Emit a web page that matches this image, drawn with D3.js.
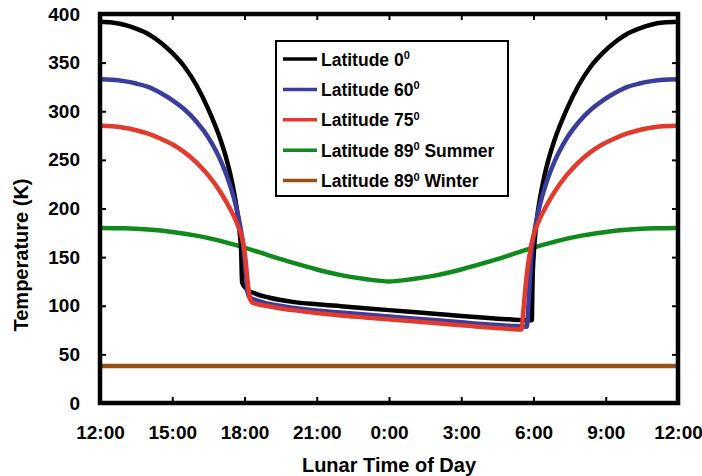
<!DOCTYPE html>
<html>
<head>
<meta charset="utf-8">
<script src="https://cdn.jsdelivr.net/npm/d3@7"></script>
<style>
  html, body { margin: 0; padding: 0; background: #fff; }
  svg { display: block; font-family: "Liberation Sans", Arial, sans-serif; }
</style>
</head>
<body>
<svg id="chart" width="702" height="476"></svg>
<script>
// Hours are counted from local noon (0 = 12:00, 12 = 0:00, 24 = next 12:00)
const hourTicks = [0, 3, 6, 9, 12, 15, 18, 21, 24];
const hourTickLabels = ["12:00", "15:00", "18:00", "21:00", "0:00", "3:00", "6:00", "9:00", "12:00"];
const tempTicks = [0, 50, 100, 150, 200, 250, 300, 350, 400];

// [hour, temperature K]
const lat0 = [[0,392],[0.5,391.2],[1,389],[1.5,385],[2,379.5],[2.5,371],[3,360],[3.5,346],[4,327],[4.5,302],[5,271],[5.25,251],[5.45,231],[5.6,212],[5.72,193],[5.8,175],[5.86,157],[5.9,124],[6.1,117],[6.5,112],[7,108.5],[8,104],[9,101.5],[10,99.5],[11,97.5],[12,95.5],[13,93.5],[14,91.5],[15,89.5],[16,87.7],[17,86],[17.93,85],[17.96,125],[18.02,157],[18.08,175],[18.16,193],[18.28,212],[18.43,231],[18.63,251],[18.88,271],[19.38,302],[19.88,327],[20.38,346],[20.88,360],[21.38,371],[21.88,379.5],[22.38,385],[22.88,389],[23.38,391.2],[24,392]];
const lat60 = [[0,333],[0.5,332.5],[1,331],[1.5,328.5],[2,325],[2.5,319],[3,311.5],[3.5,302],[4,289.5],[4.5,273],[4.84,258],[5.05,247],[5.26,234],[5.45,220],[5.6,207],[5.75,191],[5.85,178],[5.92,167],[5.97,157],[6.05,135],[6.12,115],[6.2,109],[6.5,105.5],[7,102],[8,98],[9,95],[10,93],[11,91],[12,89],[13,87],[14,85],[15,83],[16,81],[17,79.5],[17.72,78.5],[17.8,105],[17.87,135],[17.93,157],[17.98,167],[18.05,178],[18.15,191],[18.3,207],[18.45,220],[18.64,234],[18.85,247],[19.06,258],[19.4,273],[19.9,289.5],[20.4,302],[20.9,311.5],[21.4,319],[21.9,325],[22.4,328.5],[22.9,331],[23.4,332.5],[24,333]];
const lat75 = [[0,285],[0.5,284.5],[1,283],[1.5,280.5],[2,277],[2.5,272],[3,266],[3.5,258],[4,247.5],[4.5,234],[5,217],[5.25,206.5],[5.5,195],[5.7,184],[5.85,174],[5.95,164],[6.03,150],[6.13,125],[6.22,108],[6.32,103.5],[7,99.5],[8,95.5],[9,92.5],[10,90],[11,88],[12,86],[13,84],[14,82],[15,80],[16,77.8],[17,76.2],[17.5,75.5],[17.58,95],[17.67,120],[17.76,140],[17.84,153],[17.92,164],[18.02,174],[18.17,184],[18.37,195],[18.62,206.5],[18.87,217],[19.37,234],[19.87,247.5],[20.37,258],[20.87,266],[21.37,272],[21.87,277],[22.37,280.5],[22.87,283],[23.37,284.5],[24,285]];
const lat89Summer = [[0,180],[1,179.6],[2,178.3],[3,175.9],[4,172.1],[5,166.7],[6,159.7],[7,151.9],[8,144.3],[9,137.3],[10,131.5],[11,127.5],[12,125],[13,127.5],[14,131.5],[15,137.3],[16,144.3],[17,151.9],[18,159.7],[19,166.7],[20,172.1],[21,175.9],[22,178.3],[23,179.6],[24,180]];
const lat89Winter = [[0,38],[3,38],[6,38],[9,38],[12,38],[15,38],[18,38],[21,38],[24,38]];

const seriesNames = ["Latitude 0", "Latitude 60", "Latitude 75", "Latitude 89", "Latitude 89"];
const seriesSuffix = ["", "", "", " Summer", " Winter"];
const seriesColors = ["#000000", "#3a3d9e", "#e23a2c", "#108a1c", "#9c4f14"];
const seriesData = [lat0, lat60, lat75, lat89Summer, lat89Winter];

const svg = d3.select("#chart");
const plot = { left: 100, right: 678, top: 14, bottom: 403 };

const x = d3.scaleLinear().domain([0, 24]).range([plot.left, plot.right]);
const y = d3.scaleLinear().domain([0, 400]).range([plot.bottom, plot.top]);

// Curves, drawn back to front so black sits beneath the coloured lines at the terminators
const line = d3.line().x(d => x(d[0])).y(d => y(d[1])).curve(d3.curveMonotoneX);
const drawOrder = [4, 3, 0, 1, 2];
svg.append("clipPath").attr("id", "plotclip").append("rect")
  .attr("x", plot.left).attr("y", plot.top)
  .attr("width", plot.right - plot.left).attr("height", plot.bottom - plot.top);
svg.append("g").attr("clip-path", "url(#plotclip)")
  .selectAll("path").data(drawOrder).join("path")
  .attr("d", i => line(seriesData[i]))
  .attr("fill", "none")
  .attr("stroke", i => seriesColors[i])
  .attr("stroke-width", 4.5)
  .attr("stroke-linejoin", "round");

// Axes with inward ticks on all four sides
const tickStyle = g => {
  g.select(".domain").remove();
  g.selectAll(".tick line").attr("stroke", "#000").attr("stroke-width", 2);
  g.selectAll(".tick text").attr("fill", "#000").attr("font-weight", "bold")
    .attr("font-family", "'Liberation Sans', Arial, sans-serif").attr("font-size", 19);
};
svg.append("g").attr("transform", `translate(0,${plot.bottom})`)
  .call(d3.axisBottom(x).tickValues(hourTicks).tickFormat((d, i) => hourTickLabels[i])
    .tickSizeInner(-6).tickSizeOuter(0).tickPadding(23))
  .call(tickStyle);
svg.append("g").attr("transform", `translate(0,${plot.top})`)
  .call(d3.axisTop(x).tickValues(hourTicks).tickFormat("").tickSizeInner(-6).tickSizeOuter(0))
  .call(tickStyle);
svg.append("g").attr("transform", `translate(${plot.left},0)`)
  .call(d3.axisLeft(y).tickValues(tempTicks).tickSizeInner(-6).tickSizeOuter(0).tickPadding(20))
  .call(tickStyle);
svg.append("g").attr("transform", `translate(${plot.right},0)`)
  .call(d3.axisRight(y).tickValues(tempTicks).tickFormat("").tickSizeInner(-6).tickSizeOuter(0))
  .call(tickStyle);

// Plot frame
svg.append("rect")
  .attr("x", plot.left).attr("y", plot.top)
  .attr("width", plot.right - plot.left).attr("height", plot.bottom - plot.top)
  .attr("fill", "none").attr("stroke", "#000").attr("stroke-width", 4.5);

// Axis titles
svg.append("text")
  .attr("x", 389).attr("y", 472)
  .attr("text-anchor", "middle").attr("font-size", 20).attr("font-weight", "bold")
  .text("Lunar Time of Day");
svg.append("text")
  .attr("transform", "translate(28,255) rotate(-90)")
  .attr("text-anchor", "middle").attr("font-size", 20).attr("font-weight", "bold")
  .text("Temperature (K)");

// Legend
const legend = svg.append("g");
legend.append("rect")
  .attr("x", 276).attr("y", 41).attr("width", 232).attr("height", 155)
  .attr("fill", "#fff").attr("stroke", "#000").attr("stroke-width", 2);
const rows = legend.selectAll("g.row").data(d3.range(seriesNames.length)).join("g")
  .attr("class", "row")
  .attr("transform", i => `translate(0,${59 + i * 30.4})`);
rows.append("line")
  .attr("x1", 283).attr("x2", 317).attr("y1", 0).attr("y2", 0)
  .attr("stroke", i => seriesColors[i]).attr("stroke-width", 3.5);
const labels = rows.append("text")
  .attr("x", 321).attr("y", 6.5)
  .attr("font-size", 17.5).attr("font-weight", "bold");
labels.append("tspan").text(i => seriesNames[i]);
labels.append("tspan").attr("font-size", 11).attr("dy", -6.5).text("0");
labels.append("tspan").attr("dy", 6.5).text(i => seriesSuffix[i]);
</script>
</body>
</html>
